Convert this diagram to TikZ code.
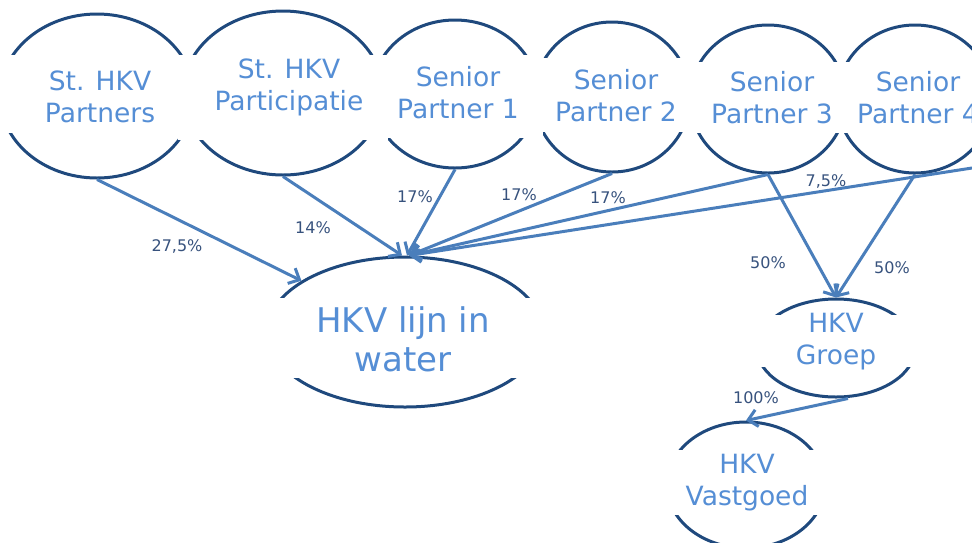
\documentclass[tikz,border=0pt]{standalone}
\usepackage{fontspec}
\setmainfont{DejaVu Sans}
\usetikzlibrary{arrows.meta,shapes.geometric}
\definecolor{ringblue}{RGB}{31,73,125}
\definecolor{textblue}{RGB}{85,142,213}
\definecolor{lineblue}{RGB}{74,126,187}
\definecolor{labelblue}{RGB}{55,82,125}
\begin{document}
\begin{tikzpicture}[x=1pt,y=-1pt,
    ring/.style={draw=ringblue,line width=3pt,ellipse,inner sep=0pt},
    band/.style={fill=white,draw=none},
    owner/.style={text=textblue,align=center,font=\fontsize{26.5}{32}\selectfont},
    bigowner/.style={text=textblue,align=center,font=\fontsize{34}{39}\selectfont},
    share/.style={text=labelblue,font=\fontsize{16}{18}\selectfont},
    own/.style={draw=lineblue,line width=3pt,-{Straight Barb[length=9pt,width=17pt]}}]
  \useasboundingbox (0,0) rectangle (972,542);
  % the rings
  \node[ring,minimum width=194pt,minimum height=164pt] (partners) at (97,96) {};
  \node[ring,minimum width=200pt,minimum height=164pt] (particip) at (283,93) {};
  \node[ring,minimum width=166pt,minimum height=148pt] (sp1) at (455,94) {};
  \node[ring,minimum width=156pt,minimum height=150pt] (sp2) at (612,97) {};
  \node[ring,minimum width=156pt,minimum height=148pt] (sp3) at (768,99) {};
  \node[ring,minimum width=156pt,minimum height=148pt] (sp4) at (915,99) {};
  \node[ring,minimum width=276pt,minimum height=150pt] (lijn) at (405,332) {};
  \node[ring,minimum width=158pt,minimum height=98pt] (groep) at (836,348) {};
  \node[ring,minimum width=158pt,minimum height=126pt] (vastgoed) at (746,485) {};
  % white bands over the sides
  \path[band] (-6,55) rectangle (198,133);
  \path[band] (178,60) rectangle (388,140);
  \path[band] (367,55) rectangle (543,138);
  \path[band] (529,58) rectangle (695,132);
  \path[band] (685,62) rectangle (851,133);
  \path[band] (832,62) rectangle (998,133);
  \path[band] (262,298) rectangle (548,378);
  \path[band] (752,315) rectangle (920,367);
  \path[band] (662,450) rectangle (830,515);
  % names
  \node[owner] (partnersT) at (100,97) {St. HKV\\Partners};
  \node[owner] (participT) at (289,87) {St. HKV\\Participatie};
  \node[owner] (sp1T) at (458,93) {Senior\\Partner 1};
  \node[owner] (sp2T) at (616,96) {Senior\\Partner 2};
  \node[owner] (sp3T) at (772,98) {Senior\\Partner 3};
  \node[owner] (sp4T) at (918,98) {Senior\\Partner 4};
  \node[bigowner] (lijnT) at (403,339) {HKV lijn in\\water};
  \node[owner] (groepT) at (836,342) {HKV\\Groep};
  \node[owner] (vastgoedT) at (747,483) {HKV\\Vastgoed};
  \coordinate (sp5) at (972,168);
  % shares
  \draw[own] (partners.south) -- (lijn);
  \draw[own] (particip.south) -- ([xshift=-3]lijn.north);
  \draw[own] (sp1.south) -- ([xshift=2]lijn.north);
  \draw[own] (sp2.south) -- ([xshift=4]lijn.north);
  \draw[own] (sp3.south) -- ([xshift=4]lijn.north);
  \draw[own] (sp5) -- ([xshift=4]lijn.north);
  \draw[own] (sp3.south) -- (groep.north);
  \draw[own] (sp4.south) -- (groep.north);
  \draw[own] ([xshift=12]groep.south) -- (vastgoed.north);
  \node[share] (s1) at (177,246) {27,5\%};
  \node[share] (s2) at (313,228) {14\%};
  \node[share] (s3) at (415,197) {17\%};
  \node[share] (s4) at (519,195) {17\%};
  \node[share] (s5) at (608,198) {17\%};
  \node[share] (s6) at (826,181) {7,5\%};
  \node[share] (s7) at (768,263) {50\%};
  \node[share] (s8) at (892,268) {50\%};
  \node[share] (s9) at (756,398) {100\%};
\end{tikzpicture}
\end{document}
